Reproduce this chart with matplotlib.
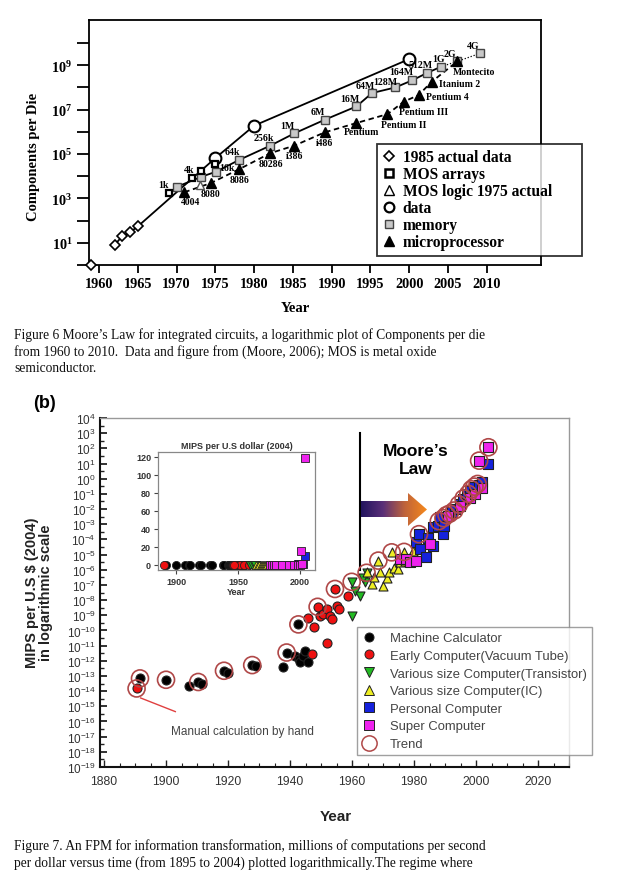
import numpy as np
import matplotlib
matplotlib.use("Agg")
import matplotlib.pyplot as plt
from matplotlib.patches import Polygon
from matplotlib.lines import Line2D
from matplotlib.colors import LinearSegmentedColormap
from matplotlib.ticker import FixedLocator, MultipleLocator, NullFormatter

plt.rcParams['mathtext.default'] = 'regular'
plt.rcParams['axes.unicode_minus'] = False

W, H = 621, 878
SERIF = 'Liberation Serif'
SANS = 'Liberation Sans'

# ---------------- Figure 6 data (components per die) ----------------
actual_years = [1959, 1962, 1963, 1964, 1965]
actual_counts = [1, 8, 20, 30, 55]

data_years = [1975, 1980, 2000]
data_counts = [6.6e4, 1.9e6, 1.9e9]

mos_years = [1969, 1972, 1973.1, 1975]
mos_counts = [1.7e3, 8e3, 1.7e4, 3.6e4]
mos_labels = ['1k', '', '4k', '']

logic_years = [1973]
logic_counts = [4e3]

memory_years = [1970.1, 1973.2, 1975.1, 1978.1, 1982.1, 1985.2, 1989.1, 1993.2,
                1995.2, 1998.2, 2000.4, 2002.3, 2004.1, 2006.2, 2009.1]
memory_counts = [3.4e3, 9.5e3, 1.6e4, 5.5e4, 2.4e5, 8.6e5, 3.5e6, 1.4e7,
                 5.6e7, 1e8, 2.1e8, 4.5e8, 8.6e8, 1.5e9, 3.4e9]
memory_labels = ['', '', '16k', '64k', '256k', '1M', '6M', '16M',
                 '64M', '128M', '164M', '512M', '1G', '2G', '4G']

micro_years = [1971, 1974.4, 1978.1, 1982.1, 1985.2, 1989.1, 1993.2, 1997.2,
               1999.3, 2001.2, 2002.9, 2006.2]
micro_counts = [1.9e3, 4.9e3, 2.1e4, 1.1e5, 2.4e5, 9.5e5, 2.5e6, 6.3e6,
                2.3e7, 4.5e7, 1.8e8, 1.5e9]
micro_labels = ['4004', '8080', '8086', '80286', 'i386', 'i486', 'Pentium',
                'Pentium II', 'Pentium III', 'Pentium 4', 'Itanium 2', 'Montecito']

# ---------------- Figure 7 data (MIPS per 2004 US dollar) ----------------
calc_years = [1891.6, 1900, 1907.4, 1910.4, 1911.5, 1918.7, 1920, 1927.8, 1929,
              1937.6, 1938.9, 1941.5, 1942.7, 1943, 1943.2, 1944.3, 1944.8, 1945.9]
calc_mips = [6.9e-14, 5.6e-14, 2.2e-14, 4e-14, 2.8e-14, 2.2e-13, 1.6e-13, 5.2e-13, 4.5e-13,
             3.7e-13, 3.5e-12, 2.1e-12, 2.5e-10, 1.3e-12, 7.9e-13, 2.1e-12, 4.6e-12, 7.9e-13]

tube_years = [1890.5, 1945.7, 1947.8, 1948.9, 1949.7, 1950.7, 1951.8, 1952.9, 1953.7,
              1955, 1955.9, 1951.8, 1947, 1954.5, 1958.8]
tube_mips = [1.5e-14, 6.3e-10, 1.7e-10, 3.6e-9, 9.3e-10, 1.2e-9, 2.6e-9, 9.3e-10, 5.6e-10,
             4.3e-9, 2.6e-9, 1.5e-11, 2.8e-12, 5.4e-8, 2e-8]

transistor_years = [1959.9, 1959.9, 1961, 1962.6, 1964.2, 1964.7, 1963.5]
transistor_mips = [9.3e-10, 1.5e-7, 4.2e-8, 2e-8, 1.5e-7, 6.3e-7, 3e-7]

ic_years = [1964.7, 1966.3, 1967, 1968.5, 1969, 1970.1, 1971.2, 1972, 1972.8, 1973.5,
            1974.9, 1975.5, 1976.8, 1977.1, 1979.2, 1979.8]
ic_mips = [7.4e-7, 1.1e-7, 3.2e-7, 4e-6, 7.4e-7, 8.9e-8, 2.7e-7, 6.8e-7, 1.4e-5, 1.4e-6,
           1.1e-6, 3.1e-6, 1.5e-5, 4e-6, 1.1e-5, 1.8e-5]

pc_years = [1980.8, 1981.6, 1981.9, 1983.9, 1984.5, 1986, 1986.2, 1987.8, 1988.4, 1989.2,
            1989.7, 1992.1, 1993.2, 1994.8, 1995.9, 1997, 1998.1, 1999.4, 2001, 2002, 2004]
pc_mips = [6.3e-5, 2.2e-4, 2.3e-5, 6.6e-6, 1.3e-4, 3.8e-5, 6.3e-4, 7.9e-4, 2.8e-3, 2.2e-4,
           7.9e-4, 6e-3, 1e-2, 2.1e-2, 4.6e-2, 0.1, 0.16, 0.27, 0.38, 0.58, 9.3]

super_years = [1975.5, 1977.4, 1978.7, 1980.8, 1985.2, 1991, 1994.8, 1998.1, 1999.7,
               2001.8, 2001, 2004]
super_mips = [5e-6, 5e-6, 3.1e-6, 4e-6, 5e-5, 3.3e-3, 1.7e-2, 5.1e-2, 0.1, 0.23, 15.5, 118]

trend_years = [1890.5, 1891.6, 1900, 1910.4, 1918.7, 1927.8, 1938.9, 1942.7, 1948.9,
               1954.5, 1959.9, 1964.7, 1968.5, 1972.8, 1976.8, 1981.6, 1988, 1989.5,
               1990.5, 1991.5, 1993, 1994.5, 1996, 1997.5, 1998.5, 1999.5, 2000.5, 2001, 2004]
trend_mips = [1.5e-14, 6.9e-14, 5.6e-14, 4e-14, 2.2e-13, 5.2e-13, 3.5e-12, 2.5e-10, 3.6e-9,
              5.4e-8, 1.6e-7, 6.3e-7, 4e-6, 1.4e-5, 1.5e-5, 2.2e-4, 1.6e-3, 2.5e-3,
              4e-3, 5e-3, 8e-3, 2e-2, 5e-2, 0.1, 0.2, 0.3, 0.45, 15.5, 118]

moores_law_year = 1962.6
moores_law_span = (1e-6, 1e3)


def px_rect(x0, y0, x1, y1):
    return [x0 / W, 1 - y1 / H, (x1 - x0) / W, (y1 - y0) / H]


def fx(x):
    return x / W


def fy(y):
    return 1 - y / H


fig = plt.figure(figsize=(W / 100, H / 100), dpi=100)
fig.patch.set_facecolor('white')

# =================== Figure 6 ===================
ax1 = fig.add_axes(px_rect(89, 21, 541, 266))
ax1.set_yscale('log')
ax1.set_xlim(1958.7, 2017)
ax1.set_ylim(1, 10 ** 11.04)

# trend line: 1985 actual data continuing through the "data" circles
ax1.plot(actual_years[1:] + data_years, actual_counts[1:] + data_counts, color='k', lw=1.3, zorder=2)
ax1.plot(memory_years[:13], memory_counts[:13], color='k', lw=1.3, zorder=2)
ax1.plot(memory_years[12:], memory_counts[12:], color='k', lw=0.9, ls=(0, (1, 1.5)), zorder=2)
ax1.plot(micro_years, micro_counts, color='k', lw=1.3, ls=(0, (3, 2)), zorder=2)

ax1.plot(actual_years, actual_counts, ls='none', marker='D', ms=5.5, mfc='white', mec='k', mew=1.2,
         clip_on=False, zorder=4)
ax1.plot(data_years, data_counts, ls='none', marker='o', ms=8.5, mfc='white', mec='k', mew=1.5, zorder=4)
ax1.plot(memory_years, memory_counts, ls='none', marker='s', ms=5.5, mfc='#c8c8c8', mec='#444', mew=1.0,
         zorder=5)
ax1.plot(mos_years, mos_counts, ls='none', marker='s', ms=5, mfc='white', mec='k', mew=1.6, zorder=5)
ax1.plot(logic_years, logic_counts, ls='none', marker='^', ms=6, mfc='white', mec='#555', mew=1.0, zorder=5)
ax1.plot(micro_years, micro_counts, ls='none', marker='^', ms=7, mfc='k', mec='k', zorder=6)

lab_kw = dict(textcoords='offset pixels', ha='center', va='center', fontfamily=SERIF,
              fontweight='bold', fontsize=7.1, zorder=7)
mem_off = {'16k': (11, 4), '4k': (-12, 2), '128M': (-10, 6), '164M': (-11, 9),
           '512M': (-6, 8), '1G': (-2, 8)}
for yr, val, lab in zip(mos_years, mos_counts, mos_labels):
    if lab:
        ax1.annotate(lab, (yr, val), xytext=mem_off.get(lab, (-5, 9)), **lab_kw)
for yr, val, lab in zip(memory_years, memory_counts, memory_labels):
    if lab:
        ax1.annotate(lab, (yr, val), xytext=mem_off.get(lab, (-7, 8)), **lab_kw)

micro_off = {'4004': (6, -9), 'Pentium': (5, -8), 'Pentium II': (16, -10),
             'Pentium III': (20, -10), 'Pentium 4': (29, -1), 'Itanium 2': (28, -2),
             'Montecito': (17, -10)}
for yr, val, lab in zip(micro_years, micro_counts, micro_labels):
    ax1.annotate(lab, (yr, val), xytext=micro_off.get(lab, (0, -10)), **dict(lab_kw, fontsize=7))

ax1.set_xticks(range(1960, 2011, 5))
ax1.yaxis.set_major_locator(FixedLocator([10.0 ** k for k in range(0, 11)]))
ax1.yaxis.set_minor_locator(FixedLocator([]))
ax1.set_yticklabels([('$10^{%d}$' % k) if k % 2 == 1 else '' for k in range(0, 11)])
ax1.tick_params(axis='both', direction='out', width=1.3, labelsize=10.3)
ax1.tick_params(axis='y', length=9, pad=3)
ax1.tick_params(axis='x', length=6, pad=3)
for t in ax1.get_xticklabels() + ax1.get_yticklabels():
    t.set_fontfamily(SERIF)
    t.set_fontweight('bold')
for s in ax1.spines.values():
    s.set_linewidth(1.3)

fig.text(fx(33), fy(157), 'Components per Die', rotation=90, ha='center', va='center',
         fontfamily=SERIF, fontweight='bold', fontsize=10.5)
fig.text(fx(295), fy(308), 'Year', ha='center', va='center',
         fontfamily=SERIF, fontweight='bold', fontsize=10.5)

h6 = [Line2D([], [], ls='none', marker='D', ms=5, mfc='white', mec='k', mew=1.2),
      Line2D([], [], ls='none', marker='s', ms=5.5, mfc='white', mec='k', mew=1.8),
      Line2D([], [], ls='none', marker='^', ms=6.5, mfc='white', mec='k', mew=1.0),
      Line2D([], [], ls='none', marker='o', ms=7, mfc='white', mec='k', mew=1.6),
      Line2D([], [], ls='none', marker='s', ms=6, mfc='#c8c8c8', mec='#444', mew=1.0),
      Line2D([], [], ls='none', marker='^', ms=7, mfc='k', mec='k')]
l6 = ['1985 actual data', 'MOS arrays', 'MOS logic 1975 actual', 'data', 'memory', 'microprocessor']
leg6 = fig.legend(h6, l6, loc='upper left',
                  bbox_to_anchor=(fx(377), fy(257), (582 - 377) / W, (257 - 145) / H),
                  mode='expand', borderaxespad=0,
                  prop={'family': SERIF, 'weight': 'bold', 'size': 11.2}, frameon=True, fancybox=False,
                  edgecolor='k', handlelength=0.8, handletextpad=0.5, labelspacing=0.06,
                  borderpad=0.35)
leg6.get_frame().set_linewidth(1.3)

cap_kw = dict(fontfamily=SERIF, fontsize=9.75, ha='left', va='center', color='#111')
fig.text(fx(14), fy(335), 'Figure 6 Moore\u2019s Law for integrated circuits, a logarithmic plot of Components per die', **cap_kw)
fig.text(fx(14), fy(352), 'from 1960 to 2010.  Data and figure from (Moore, 2006); MOS is metal oxide', **cap_kw)
fig.text(fx(14), fy(369), 'semiconductor.', **cap_kw)

# =================== Figure 7 ===================
ax2 = fig.add_axes(px_rect(100, 419, 569, 768))
ax2.set_yscale('log')

series = [
    (calc_years, calc_mips, 'o', 'black', 'Machine Calculator'),
    (tube_years, tube_mips, 'o', '#ee1111', 'Early Computer(Vacuum Tube)'),
    (transistor_years, transistor_mips, 'v', '#22bb22', 'Various size Computer(Transistor)'),
    (ic_years, ic_mips, '^', '#eeee22', 'Various size Computer(IC)'),
    (pc_years, pc_mips, 's', '#1522dd', 'Personal Computer'),
    (super_years, super_mips, 's', '#ee22ee', 'Super Computer'),
]
for xs, ys, mk, col, lab in series:
    ax2.scatter(xs, ys, marker=mk, s=42, c=col, edgecolors='#222', linewidths=0.8, zorder=4)
ax2.scatter(trend_years, trend_mips, marker='o', s=150, facecolors='none', edgecolors='#b04848',
            linewidths=1.2, zorder=5)

ax2.plot([moores_law_year, moores_law_year], moores_law_span, color='k', lw=1.5, zorder=3)

ax2.set_xlim(1878.7, 2030)
ax2.set_ylim(1e-19, 1e4)
ax2.xaxis.set_major_locator(MultipleLocator(20))
ax2.xaxis.set_minor_locator(MultipleLocator(5))
ax2.yaxis.set_major_locator(FixedLocator([10.0 ** k for k in range(-19, 5)]))
ax2.yaxis.set_minor_locator(FixedLocator([10.0 ** (k + 0.5) for k in range(-19, 4)]))
ax2.yaxis.set_minor_formatter(NullFormatter())
ax2.set_yticklabels(['$10^{%d}$' % k for k in range(-19, 5)])
ax2.tick_params(axis='both', which='both', direction='in', colors='#222', labelcolor='#333')
ax2.tick_params(axis='y', which='major', length=5, width=1.3, labelsize=8.5, pad=3)
ax2.tick_params(axis='y', which='minor', length=3, width=1.0)
ax2.tick_params(axis='x', which='major', length=5, width=1.0, labelsize=8.7, pad=6)
ax2.tick_params(axis='x', which='minor', length=3, width=0.8)
for t in ax2.get_xticklabels() + ax2.get_yticklabels():
    t.set_fontfamily(SANS)
for side in ('left', 'bottom'):
    ax2.spines[side].set_linewidth(1.5)
    ax2.spines[side].set_color('#111')
for side in ('top', 'right'):
    ax2.spines[side].set_linewidth(1.0)
    ax2.spines[side].set_color('#999')

# gradient arrow (Moore's law)
arrow_px = [(361, 502), (408, 502), (408, 494), (427, 510.5), (408, 527), (408, 518), (361, 518)]
arrow_ax = [((x - 100) / 469, (768 - y) / 349) for x, y in arrow_px]
poly = Polygon(arrow_ax, closed=True, transform=ax2.transAxes, facecolor='none', edgecolor='none')
ax2.add_patch(poly)
cmap = LinearSegmentedColormap.from_list('ml', ['#22145e', '#5a2f78', '#c0643a', '#f5881c'])
xs_ax = [p[0] for p in arrow_ax]
ys_ax = [p[1] for p in arrow_ax]
im = ax2.imshow(np.linspace(0, 1, 256).reshape(1, -1), cmap=cmap, aspect='auto',
                extent=[min(xs_ax), max(xs_ax), min(ys_ax), max(ys_ax)],
                transform=ax2.transAxes, zorder=3)
im.set_clip_path(poly)
ax2.set_xlim(1878.7, 2030)
ax2.set_ylim(1e-19, 1e4)

ax2.text(1980.5, 10 ** 1.25, 'Moore\u2019s\nLaw', ha='center', va='center', fontfamily=SANS,
         fontweight='bold', fontsize=12.5, linespacing=1.25, zorder=6)
ax2.plot([1891.8, 1903], [10 ** -14.45, 10 ** -15.35], color='#e04040', lw=1.0, zorder=3)
ax2.text(1901.5, 10 ** -16.65, 'Manual calculation by hand', ha='left', va='center',
         fontfamily=SANS, fontsize=8.5, color='#444')

fig.text(fx(45), fy(404), '(b)', ha='center', va='center', fontfamily=SANS, fontweight='bold', fontsize=13)
fig.text(fx(39), fy(593), 'MIPS per U.S $ (2004)\nin logarithmic scale', rotation=90, ha='center',
         va='center', fontfamily=SANS, fontweight='bold', fontsize=10.5, linespacing=1.0, color='#222')
fig.text(fx(336), fy(817), 'Year', ha='center', va='center', fontfamily=SANS, fontweight='bold',
         fontsize=11, color='#222')

h7 = [Line2D([], [], ls='none', marker=mk, ms=6.5, mfc=col, mec='#222', mew=0.7)
      for _, _, mk, col, _ in series]
h7.append(Line2D([], [], ls='none', marker='o', ms=11, mfc='none', mec='#b04848', mew=1.1))
l7 = [s[4] for s in series] + ['Trend']
leg7 = fig.legend(h7, l7, loc='upper left', bbox_to_anchor=(fx(357), fy(628)), borderaxespad=0,
                  prop={'family': SANS, 'size': 9.4}, frameon=True, fancybox=False,
                  edgecolor='#888', handlelength=1.0, handletextpad=1.1, labelspacing=0.42,
                  borderpad=0.4)
for t in leg7.get_texts():
    t.set_color('#444')
leg7.get_frame().set_linewidth(1.0)

# inset with linear MIPS per dollar
ax3 = fig.add_axes(px_rect(158, 453, 315, 571))
for xs, ys, mk, col, lab in series:
    ax3.scatter(xs, ys, marker=mk, s=34, c=col, edgecolors='#222', linewidths=0.6, zorder=4)
ax3.set_xlim(1885.5, 2012)
ax3.set_ylim(-6, 125)
ax3.set_xticks([1900, 1950, 2000])
ax3.set_yticks(range(0, 121, 20))
ax3.tick_params(axis='both', direction='out', length=3, width=0.8, labelsize=6.5, colors='#444',
                labelcolor='#333', pad=2)
for t in ax3.get_xticklabels() + ax3.get_yticklabels():
    t.set_fontfamily(SANS)
    t.set_fontweight('bold')
for s in ax3.spines.values():
    s.set_color('#888')
    s.set_linewidth(0.9)
ax3.set_title('MIPS per U.S dollar (2004)', fontfamily=SANS, fontweight='bold', fontsize=6.5,
              color='#333', pad=3)
ax3.set_xlabel('Year', fontfamily=SANS, fontweight='bold', fontsize=6.5, color='#333', labelpad=1)

fig.text(fx(14), fy(846), 'Figure 7. An FPM for information transformation, millions of computations per second', **cap_kw)
fig.text(fx(14), fy(863), 'per dollar versus time (from 1895 to 2004) plotted logarithmically.The regime where', **cap_kw)

fig.savefig('out.png', dpi=100)
